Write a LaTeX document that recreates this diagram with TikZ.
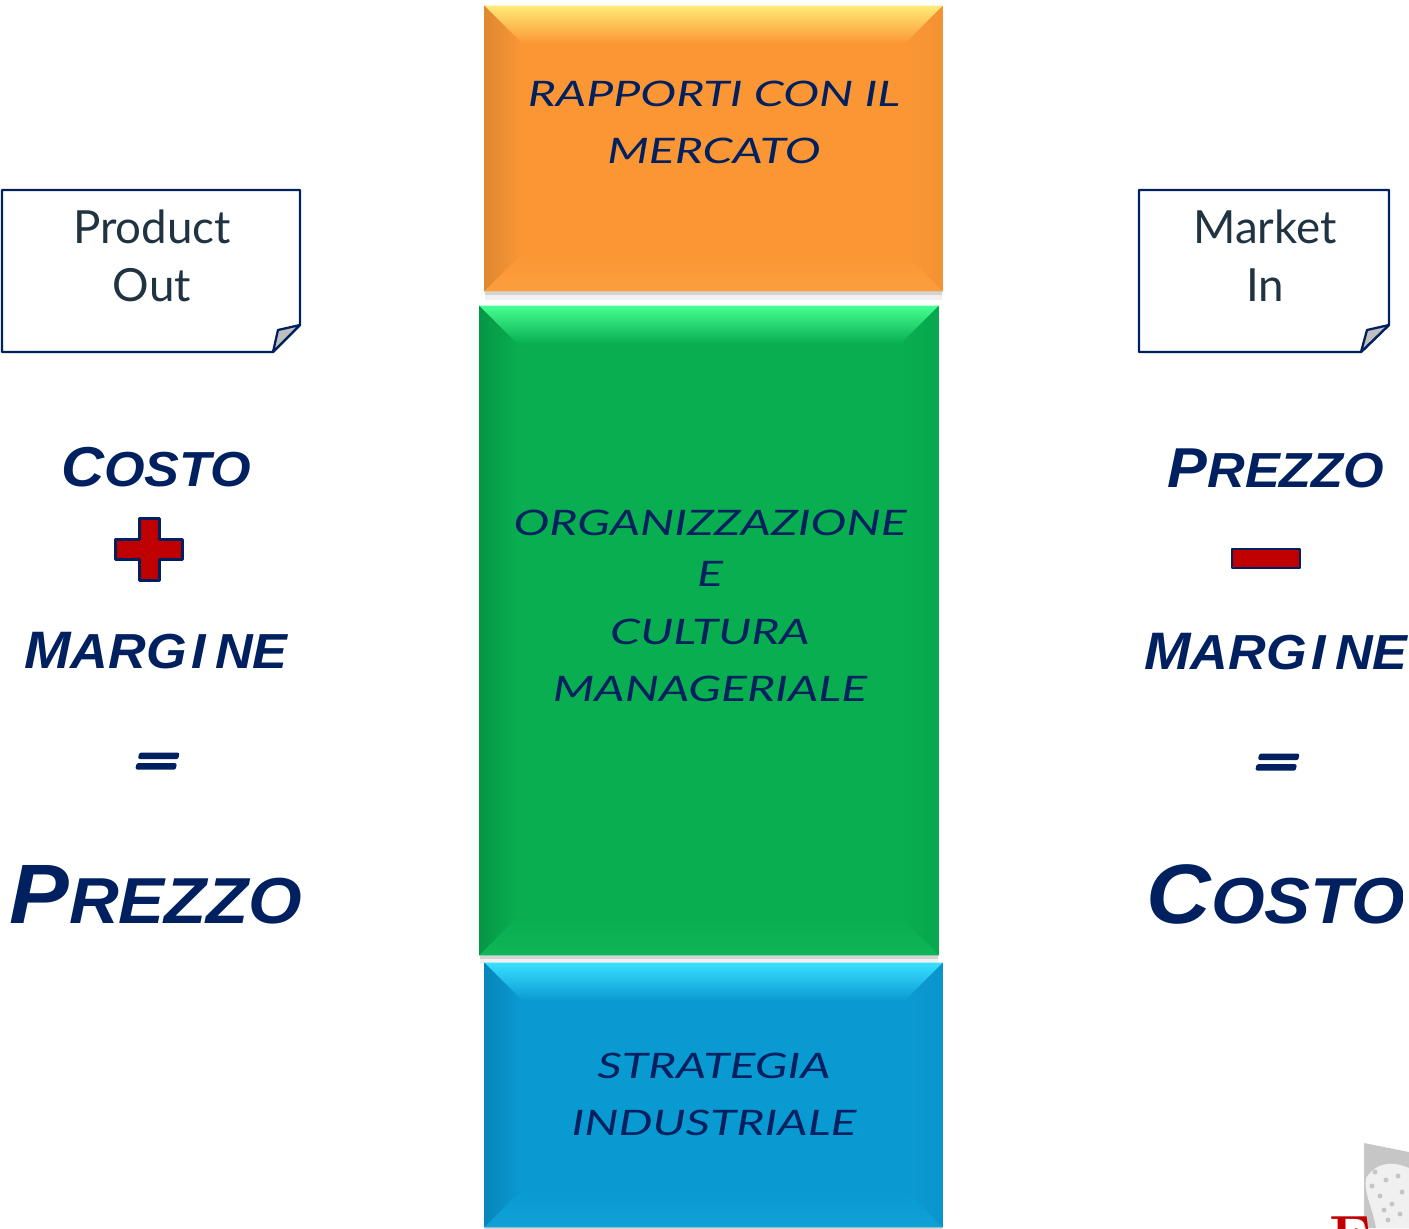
\documentclass[tikz,border=0pt]{standalone}
\usepackage{fontspec}
\usetikzlibrary{calc,shadows}
\newfontfamily\arialfont[FakeStretch=1.06]{Liberation Sans}
\newfontfamily\equalfont[FakeStretch=1.8,FakeBold=8,FakeSlant=0.25]{Liberation Sans}
\newfontfamily\handfont[FakeStretch=1.37]{Lato}
\newfontfamily\notefont{Lato}
\definecolor{navy}{HTML}{002060}
\definecolor{noteink}{HTML}{1F3340}
\definecolor{crossred}{HTML}{C00000}
\definecolor{orangebase}{RGB}{251,150,52}
\definecolor{orangetop}{RGB}{255,234,120}
\definecolor{orangeside}{RGB}{222,136,48}
\definecolor{orangelow}{RGB}{255,176,84}
\definecolor{greenbase}{RGB}{8,174,80}
\definecolor{greentop}{RGB}{70,255,146}
\definecolor{greenside}{RGB}{6,150,70}
\definecolor{greenlow}{RGB}{30,200,105}
\definecolor{bluebase}{RGB}{10,154,210}
\definecolor{bluetop}{RGB}{58,223,255}
\definecolor{blueside}{RGB}{8,134,186}
\definecolor{bluelow}{RGB}{30,175,230}
\tikzset{
  boxbase/.style={inner sep=0pt,
    drop shadow={shadow xshift=0pt,shadow yshift=-5pt,opacity=.12},
    drop shadow={shadow xshift=0pt,shadow yshift=-2.5pt,opacity=.25}},
  handtext/.style={text=navy,align=center,font=\handfont\itshape\fontsize{20}{32.5}\selectfont},
  notetext/.style={text=noteink,align=center,font=\notefont\fontsize{26}{33}\selectfont},
  notecard/.style={draw=navy,line width=1.3pt,fill=white,line join=round},
  signshape/.style={draw=navy,line width=1.3pt,fill=crossred},
  wordsm/.style={anchor=base,text=navy,font=\arialfont\bfseries\itshape\fontsize{28}{30}\selectfont},
  wordbig/.style={anchor=base,text=navy,font=\arialfont\bfseries\itshape\fontsize{37}{40}\selectfont},
  wordeq/.style={anchor=base,text=navy,font=\equalfont\fontsize{24}{26}\selectfont},
}
% bevels of a box node: name, colour prefix
\newcommand\bevels[2]{
  \shade[top color=#2top,bottom color=#2base] (#1.north west) -- (#1.north east) -- ($(#1.north east)+(-38,38)$) -- ($(#1.north west)+(38,38)$) -- cycle;
  \shade[left color=#2side,right color=#2base] (#1.north west) -- ($(#1.north west)+(38,38)$) -- ($(#1.south west)+(38,-38)$) -- (#1.south west) -- cycle;
  \shade[left color=#2base,right color=#2side!25!#2base] (#1.north east) -- ($(#1.north east)+(-38,38)$) -- ($(#1.south east)+(-38,-38)$) -- (#1.south east) -- cycle;
  \shade[top color=#2base,bottom color=#2low!30!#2base] (#1.south west) -- (#1.south east) -- ($(#1.south east)+(-38,-38)$) -- ($(#1.south west)+(38,-38)$) -- cycle;
}
\begin{document}
\begin{tikzpicture}[x=0.02cm,y=-0.02cm,line join=round]
  \useasboundingbox (0,0) rectangle (1409,1228);
  % central boxes
  \node[boxbase,fill=orangebase,minimum width=9.16cm,minimum height=5.7cm] (mercato) at (713.5,148.5) {};
  \bevels{mercato}{orange}
  \node[boxbase,fill=greenbase,minimum width=9.18cm,minimum height=12.98cm] (cultura) at (709,630.5) {};
  \bevels{cultura}{green}
  \node[boxbase,fill=bluebase,minimum width=9.16cm,minimum height=5.28cm] (strategia) at (713.5,1095) {};
  \bevels{strategia}{blue}
  \node[handtext] (mercatotext) at (714,122) {RAPPORTI CON IL\\MERCATO};
  \node[handtext] (culturatext) at (710,605.5) {ORGANIZZAZIONE\\[-3pt]E\\CULTURA\\MANAGERIALE};
  \node[handtext] (strategiatext) at (714,1094) {STRATEGIA\\INDUSTRIALE};
  % notes
  \draw[notecard] (2,190) -- (300,190) -- (300,325) -- (273,352) -- (2,352) -- cycle;
  \draw[notecard,fill=lightgray] (300,325) -- (278,330) -- (273,352) -- cycle;
  \node[notetext] (productnote) at (152,256) {Product\\Out};
  \draw[notecard] (1139,190) -- (1389,190) -- (1389,325) -- (1361,352) -- (1139,352) -- cycle;
  \draw[notecard,fill=lightgray] (1389,325) -- (1367,330) -- (1361,352) -- cycle;
  \node[notetext] (marketnote) at (1265,256) {Market\\In};
  % left column
  \node[wordsm] (costoleft) at (156,486) {{\fontsize{32}{32}\selectfont C}OSTO};
  \draw[signshape] (139.5,518.5) -- (159.5,518.5) -- (159.5,539.5) -- (182.5,539.5) -- (182.5,559.5) -- (159.5,559.5) -- (159.5,580.5) -- (139.5,580.5) -- (139.5,559.5) -- (115.5,559.5) -- (115.5,539.5) -- (139.5,539.5) -- cycle;
  \node[wordsm] (margineleft) at (156,668) {{\fontsize{30}{32}\selectfont M}ARG\kern3pt I\kern5pt NE};
  \node[wordeq] (eqleft) at (154,775) {=};
  \begin{scope}
    \clip (0,800) rectangle (302,960);
    \node[wordbig] (prezzoleft) at (156,923) {{\fontsize{48}{50}\selectfont P}REZZO};
  \end{scope}
  % right column
  \node[wordsm] (prezzoright) at (1276,487) {{\fontsize{32}{32}\selectfont P}REZZO};
  \draw[signshape] (1232,549) rectangle (1300,568);
  \node[wordsm] (margineright) at (1276,669) {{\fontsize{30}{32}\selectfont M}ARG\kern3pt I\kern5pt NE};
  \node[wordeq] (eqright) at (1274,776) {=};
  \begin{scope}
    \clip (1100,800) rectangle (1402,960);
    \node[wordbig] (costoright) at (1276,923) {{\fontsize{48}{50}\selectfont C}OSTO};
  \end{scope}
  % logo corner
  \fill[gray!45] (1364,1143) -- (1409,1152) -- (1409,1228) -- (1364,1228) -- cycle;
  \fill[gray!12] (1366,1178) .. controls (1378,1160) and (1395,1162) .. (1409,1168) -- (1409,1228) -- (1376,1228) .. controls (1372,1205) and (1364,1195) .. (1366,1178) -- cycle;
  \foreach \px/\py in {1375/1172,1386/1180,1398/1176,1380/1196,1392/1204,1402/1192,1372/1186,1388/1220,1400/1214,1384/1210}
    \fill[gray!45] (\px,\py) circle (2.5);
  \begin{scope}
    \clip (1320,1210) rectangle (1409,1228);
    \node[anchor=base west,inner sep=0pt,text=crossred,font=\bfseries\fontsize{34}{36}\selectfont] (logotext) at (1329,1257) {F};
  \end{scope}
\end{tikzpicture}
\end{document}
